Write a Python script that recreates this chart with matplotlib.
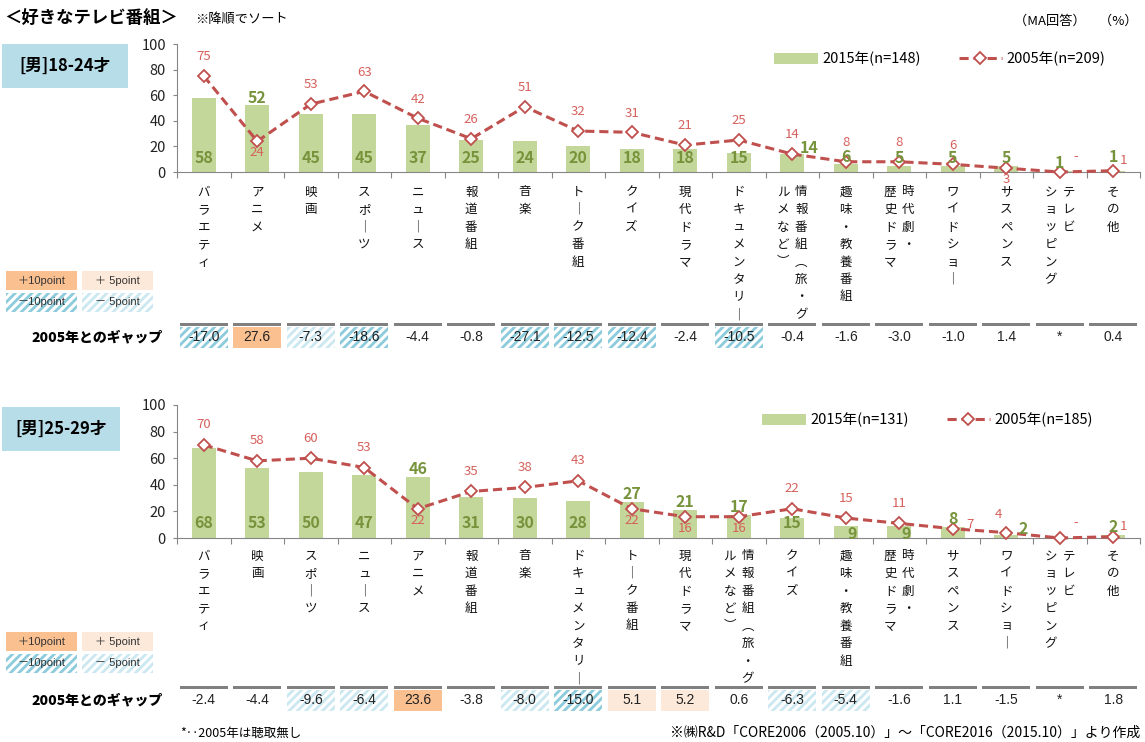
import matplotlib
matplotlib.use("Agg")
import matplotlib.pyplot as plt
import matplotlib.transforms as mtransforms
from matplotlib.patches import Rectangle
import numpy as np

plt.rcParams['font.family'] = ['Noto Sans CJK JP', 'DejaVu Sans']

W, H = 1145, 742

# ---- data: 男 18-24才 ----
cats_1824 = ['バラエティ', 'アニメ', '映画', 'スポーツ', 'ニュース', '報道番組', '音楽', 'トーク番組',
             'クイズ', '現代ドラマ', 'ドキュメンタリー', '情報番組（旅・グ\nルメなど）', '趣味・教養番組',
             '時代劇・\n歴史ドラマ', 'ワイドショー', 'サスペンス', 'テレビ\nショッピング', 'その他']
v2015_1824 = [58, 52, 45, 45, 37, 25, 24, 20, 18, 18, 15, 14, 6, 5, 5, 5, 1, 1]
v2005_1824 = [75, 24, 53, 63, 42, 26, 51, 32, 31, 21, 25, 14, 8, 8, 6, 3, None, 1]
gap_1824 = [-17.0, 27.6, -7.3, -18.6, -4.4, -0.8, -27.1, -12.5, -12.4, -2.4, -10.5, -0.4, -1.6,
            -3.0, -1.0, 1.4, None, 0.4]

# ---- data: 男 25-29才 ----
cats_2529 = ['バラエティ', '映画', 'スポーツ', 'ニュース', 'アニメ', '報道番組', '音楽', 'ドキュメンタリー',
             'トーク番組', '現代ドラマ', '情報番組（旅・グ\nルメなど）', 'クイズ', '趣味・教養番組',
             '時代劇・\n歴史ドラマ', 'サスペンス', 'ワイドショー', 'テレビ\nショッピング', 'その他']
v2015_2529 = [68, 53, 50, 47, 46, 31, 30, 28, 27, 21, 17, 15, 9, 9, 8, 2, 0, 2]
v2005_2529 = [70, 58, 60, 53, 22, 35, 38, 43, 22, 16, 16, 22, 15, 11, 7, 4, None, 1]
gap_2529 = [-2.4, -4.4, -9.6, -6.4, 23.6, -3.8, -8.0, -15.0, 5.1, 5.2, 0.6, -6.3, -5.4, -1.6,
            1.1, -1.5, None, 1.8]

# label placement codes (style only)
bar_pos_1824 = ['i', 't', 'i', 'i', 'i', 'i', 'i', 'i', 'i', 'i', 'i', 'tr', 't', 't', 't', 't', 't', 'tt']
line_pos_1824 = ['a', 'b', 'a', 'a', 'a', 'a', 'a', 'a', 'a', 'a', 'a', 'a', 'a', 'a', 'a', 'b', 'ar', 'r']
bar_pos_2529 = ['i', 'i', 'i', 'i', 't', 'i', 'i', 'i', 't', 't', 't', 'i', 'ib', 'ib', 't', 'tr', 't', 't']
line_pos_2529 = ['a', 'a', 'a', 'a', 'b', 'a', 'a', 'a', 'b', 'b', 'b', 'a', 'a', 'a', 'rl', 'al', 'ar', 'r']

BAR_OFF = {'i': (0, 11, True), 'ib': (0.12, 3, True), 't': (0, 6, False), 'tt': (0, 11, False),
           'tr': (0.32, 5, False)}
LINE_OFF = {'a': (0, 15), 'b': (0, -9), 'r': (0.2, 8), 'rl': (0.32, 3), 'ar': (0.3, 12), 'al': (-0.15, 14)}

GREEN = '#c4d79b'
GREEN_TXT = '#77933c'
RED = '#c0504d'
RED_TXT = '#d6605c'
GREY = '#868686'
BLUE_BOX = '#b7dde8'
SANS = ['Liberation Sans', 'Noto Sans CJK JP', 'DejaVu Sans']

VERT = {'ー': '｜', '（': '︵', '）': '︶'}


def px(x, y):
    return x / W, 1 - y / H


def gap_style(g):
    if g is None:
        return dict(facecolor='white', edgecolor='none', hatch=None)
    if g >= 10:
        return dict(facecolor='#fac090', edgecolor='none', hatch=None)
    if g >= 5:
        return dict(facecolor='#fde9d9', edgecolor='none', hatch=None)
    if g <= -10:
        return dict(facecolor='white', edgecolor='#8ccbdc', hatch='////')
    if g <= -5:
        return dict(facecolor='white', edgecolor='#cbe8f1', hatch='////')
    return dict(facecolor='white', edgecolor='none', hatch=None)


def draw_panel(fig, top, bottom, group, box, cats, v15, v05, gaps, n15, n05,
               bar_pos, line_pos, legend_x, legend_y, char_y0, gap_y, key_y):
    ax = fig.add_axes([177 / W, 1 - bottom / H, (1140 - 177) / W, (bottom - top) / H])
    x = np.arange(len(cats))
    y05 = [0 if v is None else v for v in v05]

    bars = ax.bar(x, v15, width=0.45, color=GREEN, zorder=2)
    line, = ax.plot(x, y05, color=RED, lw=2.2, linestyle=(0, (3, 1.6)), marker='D', ms=6.5,
                    mfc='white', mec=RED, mew=1.3, zorder=3, clip_on=False)

    for i, (v, code) in enumerate(zip(v15, bar_pos)):
        if v == 0:
            continue
        dx, dy, absolute = BAR_OFF[code]
        yy = dy if absolute else v + dy
        ax.text(i + dx, yy, str(v), ha='center', va='center', fontsize=11.5, fontweight='bold',
                color=GREEN_TXT, zorder=4)
    for i, (v, code) in enumerate(zip(v05, line_pos)):
        dx, dy = LINE_OFF[code]
        base = 0 if v is None else v
        ax.text(i + dx, base + dy, '-' if v is None else str(v), ha='center', va='center',
                fontsize=9.5, color=RED_TXT, zorder=4)

    ax.set_xlim(-0.5, len(cats) - 0.5)
    ax.set_ylim(0, 100)
    ax.set_yticks(np.arange(0, 101, 20))
    ax.set_xticks(np.arange(-0.5, len(cats), 1))
    ax.set_xticklabels([])
    for s in ['top', 'right']:
        ax.spines[s].set_visible(False)
    for s in ['left', 'bottom']:
        ax.spines[s].set_color(GREY)
    ax.tick_params(axis='y', length=3, color=GREY, labelsize=10.5, labelcolor='#222222', pad=5)
    ax.tick_params(axis='x', length=4, color=GREY)
    ax.patch.set_alpha(0)

    ax.legend([bars, line], [f'2015年(n={n15})', f'2005年(n={n05})'], ncol=2, frameon=False,
              loc='center left', bbox_to_anchor=px(legend_x, legend_y), bbox_transform=fig.transFigure,
              fontsize=10.5, handlelength=3.0, handleheight=0.8, handletextpad=0.3,
              columnspacing=2.6, borderpad=0, borderaxespad=0)

    # vertical category labels
    trans = mtransforms.blended_transform_factory(ax.transData, fig.transFigure)
    for i, lab in enumerate(cats):
        cols = lab.split('\n')
        for c, col in enumerate(cols):
            off = ((len(cols) - 1) / 2 - c) * 18
            t = mtransforms.offset_copy(trans, fig=fig, x=off, y=0, units='dots')
            for k, ch in enumerate(col):
                ax.text(i, 1 - (char_y0 + k * 17.5) / H, VERT.get(ch, ch), transform=t,
                        ha='center', va='center', fontsize=9, color='#111111', clip_on=False)

    # gap row
    for i, g in enumerate(gaps):
        st = gap_style(g)
        ax.add_patch(Rectangle((i - 0.45, 1 - (gap_y + 11) / H), 0.9, 21 / H, transform=trans,
                               facecolor=st['facecolor'], edgecolor=st['edgecolor'], hatch=st['hatch'],
                               lw=0, clip_on=False, zorder=1))
        ax.add_patch(Rectangle((i - 0.45, 1 - (gap_y - 11) / H), 0.9, 3 / H, transform=trans,
                               facecolor='#808080', lw=0, clip_on=False, zorder=2))
        ax.text(i, 1 - gap_y / H, '*' if g is None else f'{g:.1f}', transform=trans,
                ha='center', va='center', fontsize=10, family=SANS, color='#222222',
                zorder=3, clip_on=False)
    fig.text(*px(163, gap_y), '2005年とのギャップ', ha='right', va='center', fontsize=10,
             fontweight='heavy')

    # group label box
    bx0, by0, bx1, by1 = box
    fig.patches.append(Rectangle(px(bx0, by1), (bx1 - bx0) / W, (by1 - by0) / H,
                                 transform=fig.transFigure, facecolor=BLUE_BOX, lw=0))
    fig.text(*px((bx0 + bx1) / 2, (by0 + by1) / 2), group, ha='center', va='center',
             fontsize=12, fontweight='bold')

    # colour key
    keys = [('＋10point', '#fac090', 'none', None, 6, 0), ('＋ 5point', '#fde9d9', 'none', None, 82, 0),
            ('－10point', 'white', '#8ccbdc', '////', 6, 22), ('－ 5point', 'white', '#cbe8f1', '////', 82, 22)]
    for lab, fc, ec, hatch, kx, ky in keys:
        fig.patches.append(Rectangle(px(kx, key_y + ky + 19), 71 / W, 19 / H, transform=fig.transFigure,
                                     facecolor=fc, edgecolor=ec, hatch=hatch, lw=0))
        fig.text(*px(kx + 35.5, key_y + ky + 9.5), lab, ha='center', va='center', fontsize=8,
                 family=SANS, color='#333333')
    return ax


plt.rcParams['hatch.linewidth'] = 2.0
fig = plt.figure(figsize=(W / 100, H / 100), dpi=100)

fig.text(*px(4, 18), '＜好きなテレビ番組＞', ha='left', va='center', fontsize=12.5, fontweight='bold')
fig.text(*px(195, 20), '※降順でソート', ha='left', va='center', fontsize=9.5)
fig.text(*px(1138, 21), '（MA回答）　（%）', ha='right', va='center', fontsize=9.5)

draw_panel(fig, 44, 172, '[男]18-24才', (2, 44, 128, 88), cats_1824, v2015_1824, v2005_1824,
           gap_1824, 148, 209, bar_pos_1824, line_pos_1824, 774, 59, 192, 337, 271)
draw_panel(fig, 405, 538, '[男]25-29才', (2, 407, 120, 451), cats_2529, v2015_2529, v2005_2529,
           gap_2529, 131, 185, bar_pos_2529, line_pos_2529, 762, 420, 556, 700, 632)

fig.text(*px(180, 733), '*‥2005年は聴取無し', ha='left', va='center', fontsize=9)
fig.text(*px(1140, 733), '※㈱R&D「CORE2006（2005.10）」～「CORE2016（2015.10）」より作成',
         ha='right', va='center', fontsize=10)

fig.savefig('out.png', dpi=100)
plt.close(fig)
